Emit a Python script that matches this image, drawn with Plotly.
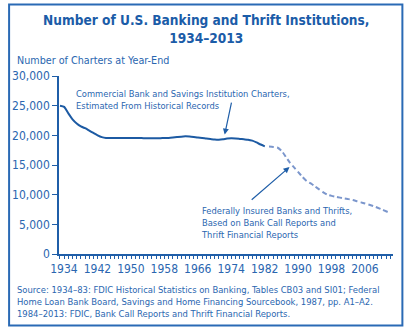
import plotly.graph_objects as go

years_hist = list(range(1934, 1984))
charters_hist = [25000, 24800, 23700, 22700, 22000, 21500, 21200, 20800, 20400, 20000,
                 19700, 19560, 19560, 19560, 19560, 19560, 19560, 19560, 19560, 19540,
                 19520, 19500, 19500, 19500, 19520, 19550, 19560, 19620, 19700, 19780,
                 19830, 19800, 19720, 19620, 19550, 19450, 19370, 19300, 19270, 19330,
                 19450, 19500, 19470, 19400, 19330, 19270, 19100, 18800, 18450, 18150]

years_fdic = list(range(1984, 2014))
charters_fdic = [18100, 18050, 17950, 17400, 16400, 15400, 14600, 13800, 13000, 12300,
                 11900, 11400, 10900, 10400, 10000, 9800, 9650, 9500, 9350, 9250,
                 9100, 8900, 8700, 8500, 8300, 8080, 7800, 7500, 7200, 6900]

x_ticks = list(range(1934, 2007, 8))
y_ticks = [0, 5000, 10000, 15000, 20000, 25000, 30000]

W, H = 408, 332
L, R, T, B = 55, 15, 76, 78
PW, PH = W - L - R, H - T - B

def px(x):
    return (x - L) / PW

def py(y):
    return (H - B - y) / PH

FONT = "DejaVu Sans Condensed, Liberation Sans, sans-serif"
TXT = "#2a66b0"
TITLE = "#1b5ca8"
AX = "#1f5ea8"

fig = go.Figure()
fig.add_trace(go.Scatter(x=years_hist, y=charters_hist, mode="lines",
                         line=dict(color="#1c5aa3", width=2, shape="spline", smoothing=0.5),
                         hoverinfo="skip", showlegend=False))
fig.add_trace(go.Scatter(x=years_fdic, y=charters_fdic, mode="lines",
                         line=dict(color="#7b96cc", width=2, dash="5px,3px", shape="spline", smoothing=0.5),
                         hoverinfo="skip", showlegend=False))

k = 4.23
a_x = 1934 - 1 / k
x_range = [a_x, a_x + PW / k]

fig.update_layout(
    width=W, height=H,
    margin=dict(l=L, r=R, t=T, b=B),
    paper_bgcolor="white", plot_bgcolor="white",
    font=dict(family=FONT, color=TXT, size=12),
    xaxis=dict(range=x_range, tickvals=x_ticks, ticktext=[str(v) for v in x_ticks],
               showgrid=False, zeroline=False, showline=True, linecolor=AX, linewidth=1.5,
               ticks="outside", ticklen=3, tickwidth=1, tickcolor=AX, ticklabelshift=4,
               minor=dict(dtick=1, tick0=1934, ticks="outside", ticklen=3, tickcolor=AX, tickwidth=1),
               tickfont=dict(family=FONT, size=12, color=TXT)),
    yaxis=dict(range=[0, 30000], tickvals=y_ticks, tickformat=",",
               showgrid=False, zeroline=False, showline=True, linecolor=AX, linewidth=1.5,
               ticks="outside", ticklen=5, tickwidth=1, tickcolor=AX,
               tickfont=dict(family=FONT, size=12, color=TXT)),
)

ann = []
ann.append(dict(text="<b>Number of U.S. Banking and Thrift Institutions,<br>1934–2013</b>",
                x=px(204), y=py(29), xref="paper", yref="paper", xanchor="center", yanchor="middle",
                showarrow=False, font=dict(family=FONT, size=13.6, color=TITLE), align="center"))
ann.append(dict(text="Number of Charters at Year-End", x=px(10), y=py(60), xref="paper", yref="paper",
                xanchor="left", yanchor="middle", showarrow=False, font=dict(size=10.7, color=TXT)))
ann.append(dict(text="Commercial Bank and Savings Institution Charters,<br>Estimated From Historical Records",
                x=px(70), y=py(99), xref="paper", yref="paper", xanchor="left", yanchor="middle",
                showarrow=False, align="left", font=dict(size=9.3, color=TXT)))
ann.append(dict(text="Federally Insured Banks and Thrifts,<br>Based on Bank Call Reports and<br>Thrift Financial Reports",
                x=px(197), y=py(222), xref="paper", yref="paper", xanchor="left", yanchor="middle",
                showarrow=False, align="left", font=dict(size=9.3, color=TXT)))
ann.append(dict(text="Source: 1934–83: FDIC Historical Statistics on Banking, Tables CB03 and SI01; Federal<br>"
                     "Home Loan Bank Board, Savings and Home Financing Sourcebook, 1987, pp. A1–A2.<br>"
                     "1984–2013: FDIC, Bank Call Reports and Thrift Financial Reports.",
                x=px(10), y=py(301.5), xref="paper", yref="paper", xanchor="left", yanchor="middle",
                showarrow=False, align="left", font=dict(size=9.4, color=TXT)))
# arrows
ann.append(dict(text="", x=1973.4, y=20120, ax=1975.1, ay=25760, xref="x", yref="y", axref="x", ayref="y",
                showarrow=True, arrowhead=2, arrowsize=1, arrowwidth=1.2, arrowcolor="#1f5ea8"))
ann.append(dict(text="", x=1988.9, y=14650, ax=1979.5, ay=8930, xref="x", yref="y", axref="x", ayref="y",
                showarrow=True, arrowhead=2, arrowsize=1, arrowwidth=1.2, arrowcolor="#1f5ea8"))
fig.update_layout(annotations=ann)

fig.add_shape(type="rect", xref="paper", yref="paper",
              x0=px(4.5), x1=px(402.5), y0=py(325.5), y1=py(4.5),
              line=dict(color="#2a6ab5", width=2), fillcolor="rgba(0,0,0,0)", layer="below")

fig.write_html("out.html")
